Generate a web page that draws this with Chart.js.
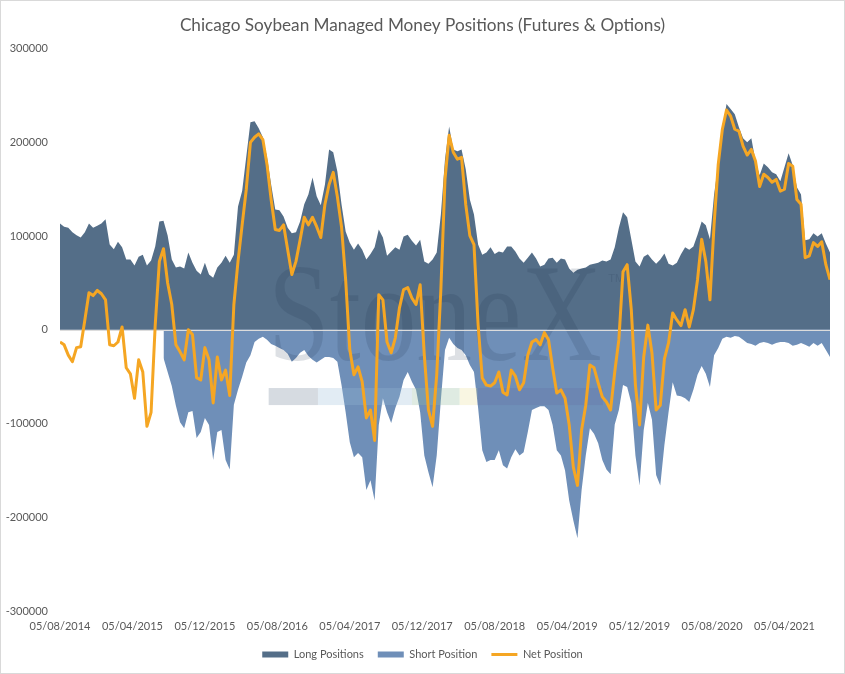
<!DOCTYPE html>
<html>
<head>
<meta charset="utf-8">
<title>Chicago Soybean Managed Money Positions</title>
<script src="https://cdn.jsdelivr.net/npm/chart.js@4.4.0/dist/chart.umd.min.js"></script>
<style>
  html, body { margin: 0; padding: 0; background: #fff; }
  #wrap { width: 845px; height: 674px; }
</style>
</head>
<body>
<div id="wrap"><canvas id="myChart" width="845" height="674"></canvas></div>
<script>
// x labels shown every 35 weeks, data read every 2 weeks from 05/08/2014
var tickLabels = ['05/08/2014', '05/04/2015', '05/12/2015', '05/08/2016', '05/04/2017', '05/12/2017',
                  '05/08/2018', '05/04/2019', '05/12/2019', '05/08/2020', '05/04/2021'];
var weeksPerTick = 35;
var weeksPerPoint = 2;

var longPositions = [
  113500, 110000, 109000, 104000, 101000, 98500, 104000, 113500, 109000, 111000,
  113500, 118000, 91000, 86000, 94000, 88000, 75000, 75000, 68500, 78000,
  80000, 68500, 74000, 89000, 115500, 116500, 100500, 75000, 66500, 67500,
  65500, 82500, 71500, 63000, 59000, 71500, 59000, 55500, 66500, 71500,
  79000, 71500, 80000, 131500, 148000, 185000, 221500, 222500, 215000, 205500,
  184000, 155000, 128500, 127500, 121000, 109000, 103000, 104000, 115500, 134000,
  144500, 162500, 142500, 133000, 155000, 192500, 189500, 169000, 134000, 105000,
  93000, 85500, 92000, 85500, 75000, 81000, 88000, 107000, 98500, 79000,
  83500, 88000, 85500, 99500, 101500, 95000, 90000, 96000, 73000, 70500,
  75000, 82500, 123000, 182000, 217000, 192500, 190500, 192500, 171500, 139000,
  123000, 91000, 80000, 82500, 88000, 81000, 83500, 82500, 89000, 89000,
  83500, 76000, 71500, 77000, 82500, 76000, 67500, 69500, 76000, 77000,
  71500, 76000, 75000, 65500, 61000, 64000, 65500, 66500, 69500, 70500,
  71500, 74000, 73000, 75000, 88000, 109000, 125500, 120000, 96500, 73000,
  67500, 78000, 80500, 75000, 70500, 75000, 81500, 70500, 68500, 71500,
  80500, 88000, 85500, 89000, 101500, 115500, 111500, 96500, 144500, 176500,
  214000, 241000, 235500, 230000, 216000, 204500, 200000, 204500, 180000, 165000,
  177500, 173500, 168000, 166000, 158500, 173500, 188500, 175500, 152000, 144500,
  95500, 96500, 103000, 99500, 103000, 92000, 82500
];

var shortPositions = [
  null, null, null, null, null, null, null, null, null, null,
  null, null, null, null, null, null, null, null, null, null,
  null, null, null, null, null, -30000, -45000, -60000, -81000, -98500,
  -105000, -88000, -86500, -115500, -109000, -94000, -101500, -139000, -109000, -107000,
  -139000, -149000, -80000, -64000, -50000, -35000, -27000, -13000, -9500, -7500,
  -10500, -15000, -17000, -19500, -21500, -25500, -34000, -30000, -24500, -21500,
  -28000, -32000, -35000, -32000, -29000, -29000, -30000, -34000, -59000, -88000,
  -120000, -136000, -131500, -136000, -171000, -160500, -182000, -101500, -73000, -88000,
  -99500, -83500, -71500, -53500, -45000, -55500, -64000, -88000, -134000, -152000,
  -168000, -134000, -75000, -21500, -8500, -15000, -19500, -21500, -27000, -37500,
  -45000, -83500, -128500, -141000, -139000, -139000, -128500, -144500, -148000, -136000,
  -127500, -134000, -130500, -109000, -85500, -83500, -81500, -81500, -85500, -101500,
  -128500, -134000, -150000, -182000, -203500, -222500, -171000, -134000, -105000, -111000,
  -121000, -139000, -149000, -154000, -101000, -85500, -59000, -61000, -78000, -134000,
  -166000, -107000, -78000, -96000, -155000, -166000, -123000, -88000, -56000, -70000,
  -71000, -73000, -77000, -64000, -48000, -38500, -47000, -61000, -27000, -19500,
  -9500, -7500, -8500, -6500, -7500, -10500, -14000, -15000, -17000, -14000,
  -13000, -14000, -16000, -14000, -13000, -13000, -14000, -17000, -16000, -14000,
  -16000, -18000, -14000, -17000, -14000, -21500, -29000
];

var netPositions = [
  -13000, -16000, -27000, -34000, -19000, -18000, 10500, 39500, 36500, 42000,
  38500, 32000, -16000, -17000, -13000, 3000, -40500, -47000, -73000, -32000,
  -45000, -103000, -88000, 5000, 73000, 86500, 50000, 27000, -16000, -23500,
  -32000, 0, -5000, -51000, -53500, -19000, -32000, -78000, -29000, -53500,
  -43000, -70000, 27000, 73000, 112000, 150000, 200000, 205500, 209000, 203000,
  176500, 139000, 107000, 106000, 112000, 85500, 59000, 73000, 96000, 120000,
  112000, 120000, 110000, 98500, 134000, 155000, 168000, 142000, 110000, 53500,
  -21000, -48000, -39500, -55500, -94000, -85500, -118000, 37500, 32000, -13000,
  -24500, -8500, 23500, 43000, 45000, 34000, 27000, 48000, -27000, -85500,
  -103000, -48000, 43000, 160500, 207500, 189500, 182000, 184000, 134000, 100500,
  91000, 5000, -51500, -59000, -60000, -56500, -45000, -66500, -69500, -43000,
  -49500, -64000, -56500, -27000, -13000, -10500, -16000, -3000, -10500, -40500,
  -67500, -64000, -73000, -101500, -146500, -166000, -107000, -80500, -37500, -40500,
  -56500, -71500, -77000, -85500, -45000, -10500, 62000, 69500, 21500, -59000,
  -101500, -29000, 5000, -25000, -85500, -80500, -31000, -14000, 18000, 10500,
  4500, 21500, 3000, 21500, 53500, 96500, 73000, 32000, 112500, 176500,
  214000, 234500, 228000, 214000, 212000, 196000, 186500, 192500, 180000, 153000,
  166000, 162500, 157500, 160500, 148000, 150000, 177500, 174500, 139000, 134000,
  77000, 79000, 93000, 89000, 94000, 69500, 53500
];

var textColor = '#595959';
Chart.defaults.font.family = 'Lato, "Open Sans", sans-serif';

function toPoints(values) {
  return values.map(function (v, i) { return { x: i * weeksPerPoint, y: v }; });
}

// StoneX watermark + zero axis line, drawn under the net line
var decor = {
  id: 'decor',
  beforeDatasetDraw: function (chart, args) {
    if (args.index !== 2) return;
    var ctx = chart.ctx, a = chart.chartArea;
    var w = a.right - a.left, h = a.bottom - a.top;
    var px = function (f) { return a.left + w * f; };
    var py = function (f) { return a.top + h * f; };

    ctx.save();
    ctx.fillStyle = 'rgba(25, 45, 75, 0.15)';
    ctx.font = '140px "Liberation Serif", "DejaVu Serif", serif';
    ctx.textBaseline = 'alphabetic';
    ctx.translate(px(0.270), py(0.554));
    ctx.scale(0.795, 1);
    ctx.fillText('StoneX', 0, 0);
    ctx.restore();

    ctx.save();
    ctx.fillStyle = 'rgba(25, 45, 75, 0.15)';
    ctx.font = '11px "Liberation Sans", sans-serif';
    ctx.fillText('TM', px(0.712), py(0.410));

    var segs = [
      [0.271, 0.335, 'rgba(120, 135, 155, 0.30)'],
      [0.335, 0.457, 'rgba(150, 185, 215, 0.28)'],
      [0.457, 0.519, 'rgba(150, 190, 160, 0.30)'],
      [0.519, 0.542, 'rgba(235, 225, 160, 0.30)'],
      [0.542, 0.705, 'rgba(100, 105, 160, 0.22)']
    ];
    var y0 = py(0.6035), y1 = py(0.6338);
    segs.forEach(function (s) {
      ctx.fillStyle = s[2];
      ctx.fillRect(px(s[0]), y0, px(s[1]) - px(s[0]), y1 - y0);
    });

    var zy = Math.round(chart.scales.y.getPixelForValue(0)) + 0.5;
    ctx.strokeStyle = '#dcdcdc';
    ctx.lineWidth = 1;
    ctx.beginPath();
    ctx.moveTo(a.left, zy);
    ctx.lineTo(a.right, zy);
    ctx.stroke();
    ctx.restore();
  },
  afterDraw: function (chart) {
    var ctx = chart.ctx;
    ctx.save();
    ctx.strokeStyle = '#d9d9d9';
    ctx.lineWidth = 1;
    ctx.strokeRect(0.5, 0.5, chart.width - 1, chart.height - 1);
    ctx.restore();
  }
};

var ctx = document.getElementById('myChart');
var myChart = new Chart(ctx, {
  type: 'line',
  data: {
    datasets: [
      {
        label: 'Long Positions',
        data: toPoints(longPositions),
        backgroundColor: '#546e88',
        borderColor: '#546e88',
        borderWidth: 0,
        pointRadius: 0,
        pointStyle: 'rect',
        fill: 'origin',
        order: 3
      },
      {
        label: 'Short Position',
        data: toPoints(shortPositions),
        backgroundColor: '#6f8fb8',
        borderColor: '#6f8fb8',
        borderWidth: 0,
        pointRadius: 0,
        pointStyle: 'rect',
        fill: 'origin',
        order: 2
      },
      {
        label: 'Net Position',
        data: toPoints(netPositions),
        borderColor: '#f5a623',
        backgroundColor: '#f5a623',
        borderWidth: 3,
        pointRadius: 0,
        pointStyle: 'line',
        fill: false,
        tension: 0,
        borderJoinStyle: 'round',
        order: 1
      }
    ]
  },
  options: {
    responsive: false,
    animation: false,
    layout: { padding: { left: 0, right: 0, top: 0, bottom: 4 } },
    plugins: {
      title: {
        display: true,
        text: 'Chicago Soybean Managed Money Positions (Futures & Options)',
        color: textColor,
        font: { size: 17.2, weight: 'normal' },
        padding: { top: 15, bottom: 13 }
      },
      legend: {
        position: 'bottom',
        labels: {
          usePointStyle: true,
          pointStyleWidth: 26,
          boxHeight: 6,
          padding: 14,
          color: textColor,
          font: { size: 11 },
          generateLabels: function (chart) {
            return chart.data.datasets.map(function (ds, i) {
              return {
                text: ds.label,
                fillStyle: ds.backgroundColor,
                strokeStyle: ds.borderColor,
                lineWidth: ds.pointStyle === 'line' ? 3 : 0,
                pointStyle: ds.pointStyle,
                fontColor: textColor,
                hidden: false,
                datasetIndex: i
              };
            });
          }
        }
      },
      tooltip: { enabled: false }
    },
    scales: {
      x: {
        type: 'linear',
        min: 0,
        max: (longPositions.length - 1) * weeksPerPoint,
        grid: { display: false, drawTicks: false, tickLength: 0 },
        border: { display: false },
        ticks: {
          stepSize: weeksPerTick,
          autoSkip: false,
          maxRotation: 0,
          color: textColor,
          font: { size: 11 },
          padding: 9,
          callback: function (value) {
            var i = value / weeksPerTick;
            return Number.isInteger(i) && tickLabels[i] ? tickLabels[i] : '';
          }
        },
        afterFit: function (scale) { scale.height = 24; }
      },
      y: {
        min: -300000,
        max: 300000,
        grid: { display: false, drawTicks: false, tickLength: 0 },
        border: { display: false },
        ticks: {
          stepSize: 100000,
          color: textColor,
          font: { size: 11 },
          padding: 12,
          callback: function (value) { return String(value); }
        },
        afterFit: function (scale) { scale.width = 60; }
      },
      // empty right-hand spacer so the plot ends at the same place while title and legend stay centred
      spacer: {
        type: 'linear',
        position: 'right',
        grid: { display: false, drawTicks: false, tickLength: 0 },
        border: { display: false },
        ticks: { display: false },
        afterFit: function (scale) { scale.width = 15; }
      }
    }
  },
  plugins: [decor]
});
</script>
</body>
</html>
